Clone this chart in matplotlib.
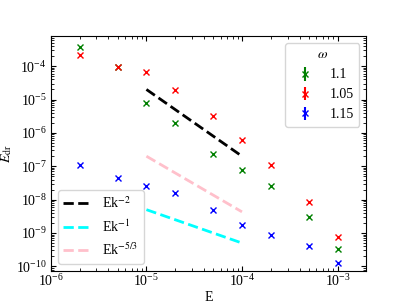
import numpy as np
import matplotlib
matplotlib.use("Agg")
import matplotlib.pyplot as plt

# ================= DATA =================
E = [2e-6, 5e-6, 1e-5, 2e-5, 5e-5, 1e-4, 2e-4, 5e-4, 1e-3]
edr_110 = [3.8e-4, 9.6e-5, 8e-6, 2e-6, 2.3e-7, 7.6e-8, 2.5e-8, 3e-9, 3.4e-10]
edr_105 = [2.2e-4, 9.5e-5, 6.6e-5, 1.9e-5, 3.3e-6, 6e-7, 1.07e-7, 8.7e-9, 7.6e-10]
edr_115 = [1.07e-7, 4.4e-8, 2.5e-8, 1.6e-8, 4.9e-9, 1.7e-9, 8.9e-10, 4e-10, 1.25e-10]
yerr = [0, 0, 0, 0, 0, 0, 0, 0, 0]

# reference slopes, drawn between these two E values
ref_E = [1e-5, 1e-4]
ref_m2 = [2e-5, 2e-7]
ref_m1 = [5e-9, 5e-10]
ref_m53 = [2e-7, 4.3e-9]
# =========================================

plt.rcParams["font.family"] = ["Liberation Serif", "DejaVu Serif"]
plt.rcParams["mathtext.fontset"] = "stix"
plt.rcParams["font.size"] = 10

fig = plt.figure(figsize=(4.07, 3.05), dpi=100)
ax = fig.add_axes([0.125, 0.113, 0.775, 0.769])

s1 = ax.errorbar(E, edr_110, yerr=yerr, fmt="x", color="green", ms=5, label="1.1")
s2 = ax.errorbar(E, edr_105, yerr=yerr, fmt="x", color="red", ms=5, label="1.05")
s3 = ax.errorbar(E, edr_115, yerr=yerr, fmt="x", color="blue", ms=5, label="1.15")

l1, = ax.plot(ref_E, ref_m2, "--", color="black", lw=2, label=r"Ek$^{-2}$")
l2, = ax.plot(ref_E, ref_m1, "--", color="cyan", lw=2, label=r"Ek$^{-1}$")
l3, = ax.plot(ref_E, ref_m53, "--", color="pink", lw=2, label=r"Ek$^{-5/3}$")

ax.set_xscale("log")
ax.set_yscale("log")
ax.set_xlim(1e-6, 2e-3)
ax.set_ylim(7.5e-11, 8e-4)
ax.set_xlabel("E", labelpad=1)
ax.set_ylabel(r"$E_{\rm dr}$", labelpad=1)
ax.tick_params(which="both", direction="in", top=True, right=True)
ax.tick_params(axis="x", which="both", pad=2)
ax.tick_params(axis="y", which="both", pad=3)

leg1 = ax.legend(handles=[l1, l2, l3], loc="lower left")
ax.add_artist(leg1)
ax.legend(handles=[s1, s2, s3], loc="upper right", title=r"$\omega$")

fig.savefig("out.png", dpi=100)
